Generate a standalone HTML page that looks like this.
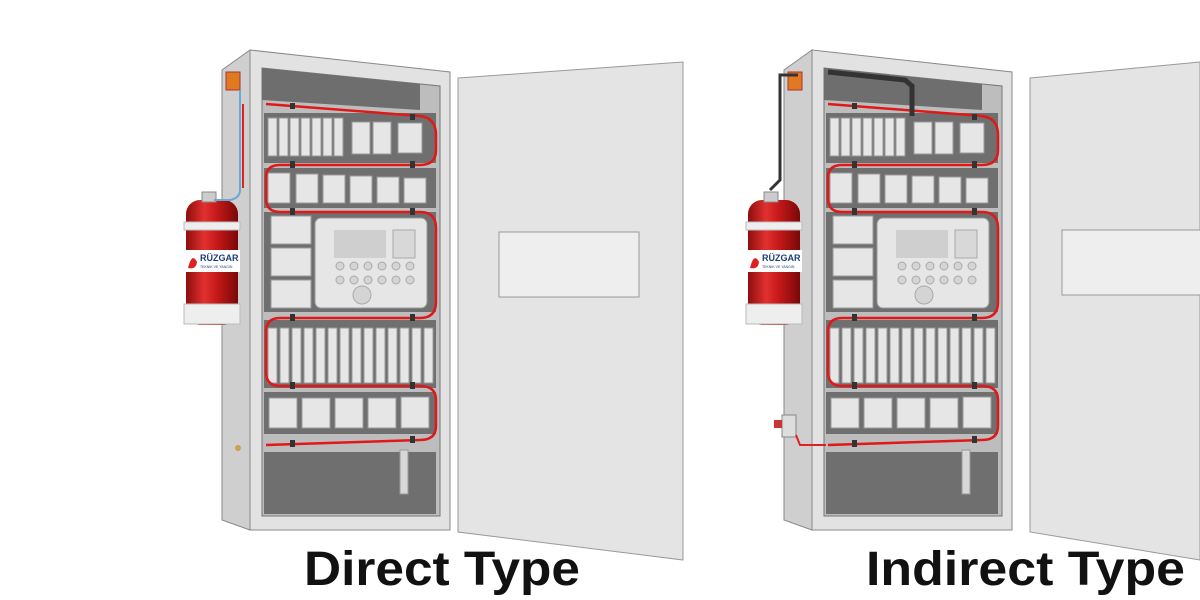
<!DOCTYPE html>
<html><head><meta charset="utf-8"><style>
html,body{margin:0;padding:0;background:#fff;width:1200px;height:600px;overflow:hidden}
svg{display:block}
text{font-family:"Liberation Sans","DejaVu Sans",sans-serif}
</style></head><body>
<svg width="1200" height="600" viewBox="0 0 1200 600" xmlns="http://www.w3.org/2000/svg">
<defs>
<linearGradient id="red" x1="0" x2="1"><stop offset="0" stop-color="#8e0d0d"/><stop offset="0.35" stop-color="#e23030"/><stop offset="0.6" stop-color="#c41818"/><stop offset="1" stop-color="#7a0808"/></linearGradient>
<g id="cab">
  <polygon points="222,70 250,50 250,530 222,520" fill="#cfcfcf" stroke="#8a8a8a"/>
  <polygon points="250,50 450,72 450,530 250,530" fill="#e2e2e2" stroke="#8a8a8a"/>
  <polygon points="262,68 440,86 440,516 262,516" fill="#bdbdbd" stroke="#777"/>
  <polygon points="262,68 420,84 420,110 262,100" fill="#6e6e6e"/>
  <rect x="264" y="113" width="172" height="50" fill="#6f6f6f"/>
  <g fill="#e6e6e6" stroke="#999">
    <rect x="268" y="118" width="9" height="38"/><rect x="279" y="118" width="9" height="38"/><rect x="290" y="118" width="9" height="38"/><rect x="301" y="118" width="9" height="38"/><rect x="312" y="118" width="9" height="38"/><rect x="323" y="118" width="9" height="38"/><rect x="334" y="118" width="9" height="38"/>
    <rect x="352" y="122" width="18" height="32"/><rect x="373" y="122" width="18" height="32"/><rect x="398" y="123" width="24" height="30"/>
  </g>
  <rect x="264" y="168" width="172" height="40" fill="#6f6f6f"/>
  <g fill="#e6e6e6" stroke="#999">
    <rect x="268" y="173" width="22" height="30"/><rect x="296" y="174" width="22" height="29"/><rect x="323" y="175" width="22" height="28"/><rect x="350" y="176" width="22" height="27"/><rect x="377" y="177" width="22" height="26"/><rect x="404" y="178" width="22" height="25"/>
  </g>
  <rect x="264" y="212" width="172" height="100" fill="#6f6f6f"/>
  <g fill="#e6e6e6" stroke="#999">
    <rect x="271" y="216" width="40" height="28"/><rect x="271" y="248" width="40" height="28"/><rect x="271" y="280" width="40" height="28"/>
    <rect x="315" y="218" width="112" height="90" rx="6"/>
  </g>
  <rect x="334" y="230" width="52" height="28" fill="#cfcfcf"/>
  <rect x="393" y="230" width="22" height="28" fill="#d8d8d8" stroke="#aaa"/>
  <g fill="#d4d4d4" stroke="#aaa">
    <circle cx="340" cy="266" r="4"/><circle cx="354" cy="266" r="4"/><circle cx="368" cy="266" r="4"/><circle cx="382" cy="266" r="4"/><circle cx="396" cy="266" r="4"/><circle cx="410" cy="266" r="4"/>
    <circle cx="340" cy="280" r="4"/><circle cx="354" cy="280" r="4"/><circle cx="368" cy="280" r="4"/><circle cx="382" cy="280" r="4"/><circle cx="396" cy="280" r="4"/><circle cx="410" cy="280" r="4"/>
    <circle cx="362" cy="295" r="9"/>
  </g>
  <rect x="264" y="320" width="172" height="68" fill="#6f6f6f"/>
  <g fill="#e6e6e6" stroke="#999">
    <rect x="268" y="328" width="9" height="55"/><rect x="280" y="328" width="9" height="55"/><rect x="292" y="328" width="9" height="55"/><rect x="304" y="328" width="9" height="55"/><rect x="316" y="328" width="9" height="55"/><rect x="328" y="328" width="9" height="55"/><rect x="340" y="328" width="9" height="55"/><rect x="352" y="328" width="9" height="55"/><rect x="364" y="328" width="9" height="55"/><rect x="376" y="328" width="9" height="55"/><rect x="388" y="328" width="9" height="55"/><rect x="400" y="328" width="9" height="55"/><rect x="412" y="328" width="9" height="55"/><rect x="424" y="328" width="9" height="55"/>
  </g>
  <rect x="264" y="392" width="172" height="42" fill="#6f6f6f"/>
  <g fill="#e6e6e6" stroke="#999">
    <rect x="269" y="398" width="28" height="30"/><rect x="302" y="398" width="28" height="30"/><rect x="335" y="398" width="28" height="30"/><rect x="368" y="398" width="28" height="30"/><rect x="401" y="397" width="28" height="31"/>
  </g>
  <rect x="264" y="452" width="172" height="62" fill="#6f6f6f"/>
  <rect x="400" y="450" width="8" height="44" fill="#d8d8d8" stroke="#999"/>
  <path d="M266,104 L420,116 Q436,118 436,135 L436,150 Q436,165 420,165 L280,165 Q266,165 266,178 L266,198 Q266,212 280,212 L420,212 Q436,212 436,228 L436,302 Q436,318 420,318 L280,318 Q266,318 266,332 L266,372 Q266,386 280,386 L420,386 Q436,386 436,400 L436,426 Q436,440 420,440 L266,445" fill="none" stroke="#e01818" stroke-width="2.5"/>
  <g fill="#333">
    <rect x="290" y="103" width="5" height="6"/><rect x="410" y="114" width="5" height="6"/>
    <rect x="290" y="161" width="5" height="7"/><rect x="410" y="161" width="5" height="7"/>
    <rect x="290" y="208" width="5" height="7"/><rect x="410" y="208" width="5" height="7"/>
    <rect x="290" y="314" width="5" height="7"/><rect x="410" y="314" width="5" height="7"/>
    <rect x="290" y="382" width="5" height="7"/><rect x="410" y="382" width="5" height="7"/>
    <rect x="290" y="440" width="5" height="7"/><rect x="410" y="436" width="5" height="7"/>
  </g>
  <rect x="226" y="72" width="14" height="18" fill="#e07a20" stroke="#a33"/>
  <rect x="186" y="200" width="52" height="125" rx="14" fill="url(#red)"/>
  <rect x="184" y="222" width="56" height="8" fill="#eee" stroke="#bbb"/>
  <rect x="184" y="304" width="56" height="20" fill="#eee" stroke="#bbb"/>
  <rect x="202" y="192" width="14" height="10" fill="#ccc" stroke="#888"/>
  <rect x="185" y="250" width="55" height="22" fill="#fff"/>
  <text x="200" y="261" font-size="9" font-weight="bold" fill="#1b3f7a">RÜZGAR</text>
  <text x="200" y="268" font-size="3.5" fill="#1b3f7a">TEKNİK VE YANGIN</text>
  <path d="M188,268 Q192,252 197,262 Q196,270 188,268Z" fill="#d22"/>
</g>
</defs>

<use href="#cab"/>
<path d="M240,90 L240,190 Q240,198 230,200 L214,200" fill="none" stroke="#6aa8d8" stroke-width="2"/>
<path d="M243,104 L243,188" fill="none" stroke="#d22" stroke-width="2"/>
<circle cx="238" cy="448" r="3" fill="#c9a24a"/>
<polygon points="458,78 683,62 683,560 458,532" fill="#e4e4e4" stroke="#999"/>
<rect x="499" y="232" width="140" height="65" fill="#eeeeee" stroke="#999"/>

<use href="#cab" transform="translate(562,0)"/>
<path d="M828,72 L905,80 L912,86 L912,116" fill="none" stroke="#333" stroke-width="5"/>
<path d="M798,75 L780,75 L780,180 L770,190" fill="none" stroke="#333" stroke-width="3"/>
<rect x="782" y="415" width="14" height="22" fill="#ddd" stroke="#888"/>
<rect x="774" y="420" width="8" height="8" fill="#c33"/>
<path d="M796,435 L800,445 L826,445" fill="none" stroke="#d22" stroke-width="2"/>
<polygon points="1030,78 1200,62 1200,560 1030,532" fill="#e4e4e4" stroke="#999"/>
<rect x="1062" y="230" width="140" height="65" fill="#eeeeee" stroke="#999"/>

<text x="304" y="585" font-size="48" font-weight="bold" fill="#111" textLength="276" lengthAdjust="spacingAndGlyphs">Direct Type</text>
<text x="866" y="585" font-size="48" font-weight="bold" fill="#111" textLength="319" lengthAdjust="spacingAndGlyphs">Indirect Type</text>
</svg>
</body></html>
